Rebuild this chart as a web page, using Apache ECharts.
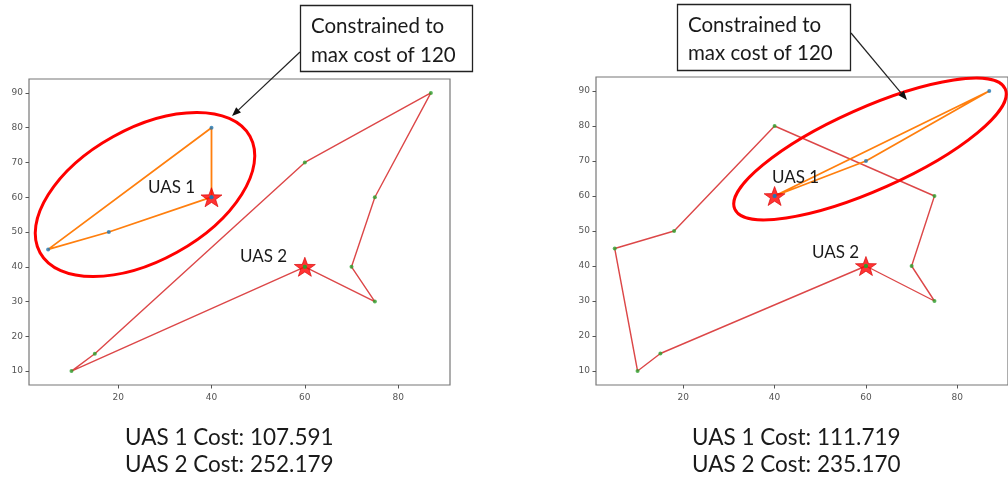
<!DOCTYPE html>
<html>
<head>
<meta charset="utf-8">
<script src="https://cdn.jsdelivr.net/npm/echarts@6/dist/echarts.min.js"></script>
<style>
html,body{margin:0;padding:0;background:#fff;}
#chart{width:1008px;height:479px;}
</style>
</head>
<body>
<div id="chart"></div>
<script>
// ---- data ----
const uas1LeftPath = [[40,60],[40,80],[5,45],[18,50],[40,60]];
const uas2LeftPath = [[60,40],[10,10],[15,15],[60,70],[87,90],[75,60],[70,40],[75,30],[60,40]];
const uas1RightPath = [[40,60],[87,90],[60,70],[40,60]];
const uas2RightPath = [[60,40],[15,15],[10,10],[5,45],[18,50],[40,80],[75,60],[70,40],[75,30],[60,40]];
const uas1Start = [40,60];
const uas2Start = [60,40];
const xTicks = [20,40,60,80];
const yTicks = [10,20,30,40,50,60,70,80,90];
const costLeft = ['UAS 1 Cost: 107.591','UAS 2 Cost: 252.179'];
const costRight = ['UAS 1 Cost: 111.719','UAS 2 Cost: 235.170'];
const calloutText = ['Constrained to','max cost of 120'];
const uasLabels = ['UAS 1','UAS 2'];

const STAR = 'path://M0,-10 L2.35,-3.24 L9.51,-3.09 L3.8,1.24 L5.88,8.09 L0,4 L-5.88,8.09 L-3.8,1.24 L-9.51,-3.09 L-2.35,-3.24 Z';
const chart = echarts.init(document.getElementById('chart'), null, {renderer:'canvas'});

function xAxis(gi){
  return {type:'value', gridIndex:gi, min:0.9, max:91.1,
    splitLine:{show:false}, axisLine:{show:false},
    axisTick:{show:true, length:3.5, lineStyle:{color:'#555', width:1}, customValues:xTicks},
    axisLabel:{customValues:xTicks, fontSize:9, color:'#555', fontFamily:'DejaVu Sans', margin:8}};
}
function yAxis(gi){
  return {type:'value', gridIndex:gi, min:6, max:94,
    splitLine:{show:false}, axisLine:{show:false},
    axisTick:{show:true, length:3.5, lineStyle:{color:'#555', width:1}, customValues:yTicks},
    axisLabel:{customValues:yTicks, fontSize:9, color:'#555', fontFamily:'DejaVu Sans', margin:6}};
}
function seriesFor(gi, p1, p2){
  return [
    {type:'line', xAxisIndex:gi, yAxisIndex:gi, data:p2, showSymbol:false, symbol:'none', z:2,
      lineStyle:{color:'#d62728', width:1.4, opacity:0.85}, animation:false},
    {type:'line', xAxisIndex:gi, yAxisIndex:gi, data:p1, showSymbol:false, symbol:'none', z:2,
      lineStyle:{color:'#ff7f0e', width:1.8}, animation:false},
    {type:'scatter', xAxisIndex:gi, yAxisIndex:gi, data:[uas1Start, uas2Start], symbol:STAR,
      symbolSize:[21,20], symbolKeepAspect:true, z:3,
      itemStyle:{color:'#ff0000', borderColor:'#d80000', borderWidth:0.8}, animation:false},
    {type:'scatter', xAxisIndex:gi, yAxisIndex:gi, data:p1, symbolSize:4, z:4,
      itemStyle:{color:'#1f77b4'}, animation:false},
    {type:'scatter', xAxisIndex:gi, yAxisIndex:gi, data:p2, symbolSize:4, z:4,
      itemStyle:{color:'#2ca02c'}, animation:false}
  ];
}
const FONT = 'Lato';
function txt(x,y,s,size){
  return {type:'text', x:x, y:y, z:20, style:{text:s, fontFamily:FONT, fontSize:size, fill:'#1a1a1a', textVerticalAlign:'middle', textAlign:'left'}};
}
function arrow(x1,y1,x2,y2){
  const ang = Math.atan2(y2-y1, x2-x1);
  const L = 9, W = 3.5;
  const bx = x2 - L*Math.cos(ang), by = y2 - L*Math.sin(ang);
  const px = -Math.sin(ang)*W, py = Math.cos(ang)*W;
  return [
    {type:'line', z:20, shape:{x1:x1,y1:y1,x2:bx,y2:by}, style:{stroke:'#222', lineWidth:1.2}},
    {type:'polygon', z:20, shape:{points:[[x2,y2],[bx+px,by+py],[bx-px,by-py]]}, style:{fill:'#111'}}
  ];
}
function ellipse(cx,cy,rx,ry,deg){
  return {type:'ellipse', x:cx, y:cy, rotation:deg*Math.PI/180, z:15,
    shape:{cx:0, cy:0, rx:rx, ry:ry}, style:{fill:null, stroke:'#ff0000', lineWidth:3}};
}

const option = {
  backgroundColor:'#fff',
  animation:false,
  grid:[
    {left:29, top:79, width:421, height:306, show:true, borderColor:'#777', borderWidth:1.2, backgroundColor:'transparent'},
    {left:596, top:77, width:419, height:308, show:true, borderColor:'#777', borderWidth:1.2, backgroundColor:'transparent'}
  ],
  xAxis:[xAxis(0), xAxis(1)],
  yAxis:[yAxis(0), yAxis(1)],
  series:[].concat(seriesFor(0, uas1LeftPath, uas2LeftPath), seriesFor(1, uas1RightPath, uas2RightPath)),
  graphic:[].concat(
    [ellipse(145,194.5,120,66,29), ellipse(870,149,148,41,24)],
    arrow(300,52,232,116), arrow(851,33,907,100),
    [
      {type:'rect', z:19, shape:{x:300.5,y:5.5,width:172,height:66}, style:{fill:'#fff', stroke:'#222', lineWidth:1.3}},
      {type:'rect', z:19, shape:{x:677.5,y:4.5,width:173,height:66}, style:{fill:'#fff', stroke:'#222', lineWidth:1.3}},
      txt(311,26,calloutText[0],20.5), txt(311,55,calloutText[1],20.5),
      txt(688,25,calloutText[0],20.5), txt(688,53,calloutText[1],20.5),
      txt(148,188,uasLabels[0],17), txt(240,257,uasLabels[1],17),
      txt(772,178,uasLabels[0],17), txt(812,253,uasLabels[1],17),
      txt(125,438,costLeft[0],22.5), txt(125,465,costLeft[1],22.5),
      txt(692,438,costRight[0],22.5), txt(692,465,costRight[1],22.5)
    ]
  )
};
chart.setOption(option);
</script>
</body>
</html>
